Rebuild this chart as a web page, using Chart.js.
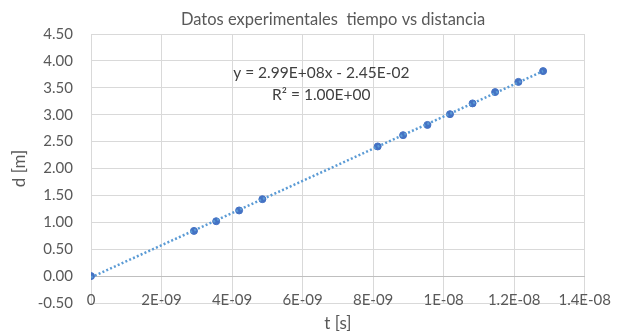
<!DOCTYPE html>
<html>
<head>
<meta charset="utf-8">
<script src="https://cdn.jsdelivr.net/npm/chart.js@4"></script>
<style>
  html, body { margin: 0; padding: 0; background: #fff; }
  #wrap { width: 626px; height: 332px; }
</style>
</head>
<body>
<div id="wrap"><canvas id="grafica" width="626" height="332"></canvas></div>
<script>
//DATOS
const tiempo = [0, 2.92e-9, 3.55e-9, 4.20e-9, 4.86e-9, 8.13e-9, 8.85e-9, 9.54e-9, 1.018e-8, 1.082e-8, 1.146e-8, 1.212e-8, 1.282e-8];
const distancia = [0.00, 0.84, 1.02, 1.22, 1.43, 2.41, 2.62, 2.81, 3.01, 3.21, 3.42, 3.61, 3.81];

// linea de tendencia (Excel)
const pendiente = 2.99e8;
const intercepto = -2.45e-2;
const ecuacion = ['y = 2.99E+08x - 2.45E-02', 'R² = 1.00E+00'];

const titulo = 'Datos experimentales  tiempo vs distancia';
const tituloX = 't [s]';
const tituloY = 'd [m]';

const gris = '#595959';
const fuente = 'Lato, "Open Sans", sans-serif';

function sci(v) {
    if (Math.abs(v) < 1e-15) return '0';
    let s = Number(v.toPrecision(4)).toExponential();
    let partes = s.split('e');
    let n = parseInt(partes[1]);
    return partes[0] + 'E' + (n < 0 ? '-' : '+') + String(Math.abs(n)).padStart(2, '0');
}

const puntos = tiempo.map((t, i) => ({ x: t, y: distancia[i] }));
const tMin = Math.min(...tiempo);
const tMax = Math.max(...tiempo);
const tendencia = [
    { x: tMin, y: pendiente * tMin + intercepto },
    { x: tMax, y: pendiente * tMax + intercepto }
];

// titulo y texto de la ecuacion
const textos = {
    id: 'textos',
    afterDraw(chart) {
        const ctx = chart.ctx;
        const xs = chart.scales.x;
        const ys = chart.scales.y;
        ctx.save();
        ctx.textAlign = 'center';
        ctx.textBaseline = 'middle';
        ctx.font = '16.5px ' + fuente;
        ctx.fillStyle = gris;
        ctx.fillText(titulo, chart.chartArea.left + 242, 20);
        ctx.font = '15.5px ' + fuente;
        ctx.fillStyle = '#404040';
        ctx.fillText(ecuacion[0], xs.getPixelForValue(6.53e-9), ys.getPixelForValue(3.78));
        ctx.fillText(ecuacion[1], xs.getPixelForValue(6.53e-9), ys.getPixelForValue(3.36));
        ctx.restore();
    }
};

const config = {
    type: 'scatter',
    data: {
        datasets: [{
            label: 'tendencia',
            data: tendencia,
            showLine: true,
            borderColor: '#5B9BD5',
            borderWidth: 2.5,
            borderDash: [2, 2.2],
            pointRadius: 0,
            fill: false
        }, {
            label: 'datos',
            data: puntos,
            backgroundColor: '#4472C4',
            borderColor: '#4472C4',
            pointRadius: 3.5,
            borderWidth: 1
        }]
    },
    options: {
        responsive: false,
        animation: false,
        layout: { padding: { left: 0, right: 29, top: 34, bottom: 29 } },
        plugins: {
            legend: { display: false },
            tooltip: { enabled: false },
            title: { display: false }
        },
        scales: {
            x: {
                type: 'linear',
                position: { y: 0 },
                min: 0,
                max: 1.4e-8,
                border: { display: true, color: '#BFBFBF', width: 1 },
                grid: { color: '#D9D9D9', lineWidth: 1, drawTicks: false },
                ticks: {
                    stepSize: 2e-9,
                    maxRotation: 0,
                    autoSkip: false,
                    padding: 15,
                    color: gris,
                    font: { family: fuente, size: 15 },
                    callback: v => sci(v)
                },
                title: {
                    display: true,
                    text: tituloX,
                    color: gris,
                    font: { family: fuente, size: 17 },
                    padding: { top: -11.2, bottom: 0 }
                }
            },
            y: {
                type: 'linear',
                position: 'left',
                min: -0.5,
                max: 4.5,
                border: { display: false },
                grid: {
                    drawTicks: false,
                    lineWidth: 1,
                    color: c => (c.tick && c.tick.value === 0) ? '#BFBFBF' : '#D9D9D9'
                },
                ticks: {
                    stepSize: 0.5,
                    padding: 18,
                    color: gris,
                    font: { family: fuente, size: 15 },
                    callback: v => v.toFixed(2)
                },
                title: {
                    display: true,
                    text: tituloY,
                    color: gris,
                    font: { family: fuente, size: 17 },
                    padding: { top: 9, bottom: 0 }
                },
                afterFit(scale) { scale.width = 91; }
            }
        }
    },
    plugins: [textos]
};

const ctx = document.getElementById('grafica').getContext('2d');
new Chart(ctx, config);
</script>
</body>
</html>
